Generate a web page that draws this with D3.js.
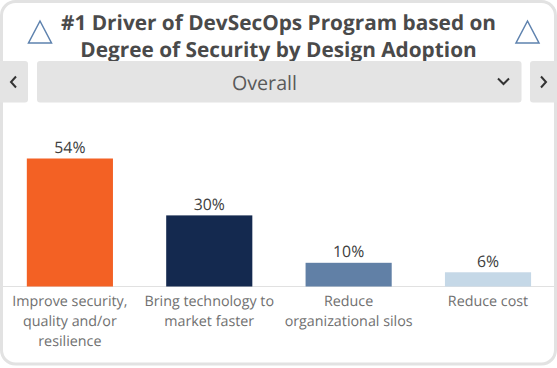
<!DOCTYPE html>
<html><head><meta charset="utf-8">
<script src="https://cdnjs.cloudflare.com/ajax/libs/d3/7.8.5/d3.min.js"></script>
<style>html,body{margin:0;padding:0;background:#fff}svg{display:block}text{font-family:"Open Sans",sans-serif;text-rendering:geometricPrecision}</style>
</head><body><svg id="c" width="557" height="368"></svg>
<script>
const categories = ["Improve security,|quality and/or|resilience","Bring technology to|market faster","Reduce|organizational silos","Reduce cost"];
const values = [54,30,10,6];
const barColors = ["#F36124","#14294F","#6180A6","#C5D8E7"];
const titleLines = ["#1 Driver of DevSecOps Program based on","Degree of Security by Design Adoption"];
const selected = "Overall";

const svg = d3.select("#c");
svg.append("rect").attr("x",1.5).attr("y",1.5).attr("width",554).attr("height",362.5).attr("rx",14)
  .attr("fill","#fff").attr("stroke","#E2E2E2").attr("stroke-width",3);

const x = d3.scaleBand().domain(d3.range(categories.length)).range([0.2,557.7]).paddingInner(0.382).paddingOuter(0.191);
const y = d3.scaleLinear().domain([0,54]).range([286.5,158.5]);
const cx = i => x(i)+x.bandwidth()/2;

svg.append("line").attr("x1",3).attr("x2",554).attr("y1",286.5).attr("y2",286.5).attr("stroke","#E1E1E1").attr("stroke-width",1);

const g = svg.append("g");
g.selectAll("rect").data(values).join("rect")
  .attr("x",(d,i)=>x(i)).attr("width",x.bandwidth())
  .attr("y",d=>y(d)).attr("height",d=>y(0)-y(d))
  .attr("fill",(d,i)=>barColors[i]);
g.selectAll("text.v").data(values).join("text").attr("class","v")
  .attr("x",(d,i)=>cx(i)).attr("y",d=>y(d)-5.5)
  .attr("text-anchor","middle").attr("font-size",15.8).attr("fill","#404040")
  .text(d=>d+"%");
categories.forEach((c,i)=>{
  c.split("|").forEach((l,j)=>{
    svg.append("text").attr("x",cx(i)).attr("y",306+j*20)
      .attr("text-anchor","middle").attr("font-size",14.3).attr("fill","#707070").text(l);
  });
});
titleLines.forEach((l,i)=>{
  svg.append("text").attr("x",278.5).attr("y",30+i*27).attr("text-anchor","middle")
    .attr("font-size",20.8).attr("font-weight",700).attr("fill","#4A4A4A").text(l);
});
[[40,21,43],[527.5,21,43]].forEach(t=>{
  svg.append("path").attr("d",`M${t[0]} ${t[1]}L${t[0]+11.5} ${t[2]}L${t[0]-11.5} ${t[2]}Z`)
    .attr("fill","none").attr("stroke","#5E82AE").attr("stroke-width",1.5);
});
[[-8,61,36],[37,61,484.5],[530,61,40]].forEach(r=>{
  svg.append("rect").attr("x",r[0]).attr("y",r[1]).attr("width",r[2]).attr("height",41.5).attr("rx",3).attr("fill","#E4E4E4");
});
svg.append("text").attr("x",264.5).attr("y",90).attr("text-anchor","middle").attr("font-size",19.7).attr("fill","#595959").text(selected);
const arrow=(d)=>svg.append("path").attr("d",d).attr("fill","none").attr("stroke","#333").attr("stroke-width",2);
arrow("M16 76.5L11 82L16 87.5");
arrow("M541 76.5L546 82L541 87.5");
arrow("M498 78.5L503.5 84L509 78.5");
</script></body></html>
